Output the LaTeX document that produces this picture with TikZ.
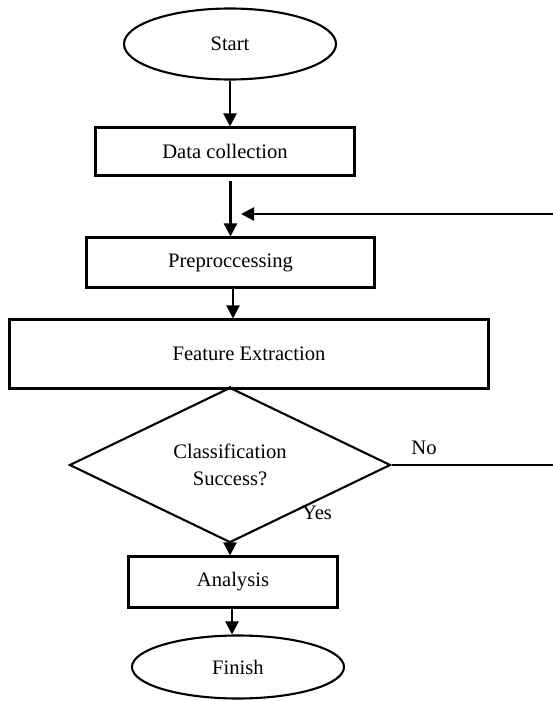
\documentclass[tikz,border=0pt]{standalone}
\usepackage{fontspec}
\setmainfont{Liberation Serif}
\usetikzlibrary{shapes.geometric,arrows.meta,calc}
\tikzset{
  every node/.style={font=\fontsize{20.6}{27}\selectfont, inner sep=0pt},
  boxnode/.style={draw, line width=2.1pt, rectangle},
  ovalnode/.style={draw, line width=2.1pt, ellipse},
  decnode/.style={draw, line width=2.1pt, diamond, align=center},
  arr/.style={line width=2.3pt, -{Triangle[width=13pt,length=13pt]}},
  plain/.style={line width=2.1pt},
  lbl/.style={}
}
\begin{document}
\begin{tikzpicture}[x=1pt,y=1pt]
\useasboundingbox (0,0) rectangle (553,-701);
\node[ovalnode, minimum width=212pt, minimum height=71pt] (start) at (230,-44) {Start};
\node[boxnode, minimum width=259pt, minimum height=48pt] (data) at (225,-151.5) {Data collection};
\node[boxnode, minimum width=288pt, minimum height=50pt] (pre) at (230.5,-262.5) {Preproccessing};
\node[boxnode, minimum width=479pt, minimum height=69pt] (feat) at (249,-354) {Feature Extraction};
\node[decnode, minimum width=321pt, minimum height=135pt] (dec) at (230,-465) {Classification\\Success?};
\node[boxnode, minimum width=209pt, minimum height=51pt] (ana) at (233,-582) {Analysis};
\node[ovalnode, minimum width=212pt, minimum height=63pt] (fin) at (238,-667) {Finish};
\node[lbl] (no) at (424,-448) {No};
\node[lbl] (yes) at (317,-513) {Yes};
\coordinate (fbR) at (553,-214);
\coordinate (fbL) at (241,-214);
\coordinate (noR) at (553,-465);
\draw[arr] (start.south) -- (start.south |- data.north);
\draw[arr] ($(pre.north |- data.south)+(0,-4)$) -- (pre.north);
\draw[arr] (fbR) -- (fbL);
\draw[arr] ($(pre.south)+(2.5,0)$) -- ($(feat.north)+(-16,0)$);
\draw[plain] (dec.north |- feat.south) -- (dec.north);
\draw[plain] (dec.east) -- (noR);
\draw[arr] (dec.south) -- (dec.south |- ana.north);
\draw[arr] ($(ana.south)+(-1,0)$) -- ($(fin.north)+(-6,0)$);
\end{tikzpicture}
\end{document}
